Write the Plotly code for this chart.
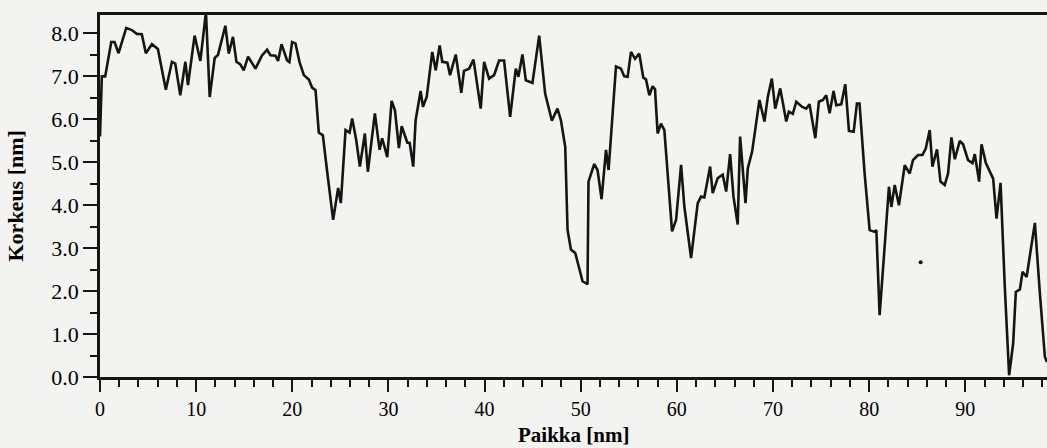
import plotly.graph_objects as go

# Profile data (position in nm, height in nm)
position_nm = [0.0, 0.19, 0.54, 1.17, 1.51, 1.93, 2.73, 3.31, 3.83, 4.35,
    4.77, 5.40, 6.02, 6.38, 6.85, 7.48, 7.83, 8.35, 8.88, 9.15,
    9.84, 10.44, 11.02, 11.41, 11.93, 12.27, 13.04, 13.39, 13.83, 14.19,
    14.60, 14.95, 15.40, 16.17, 16.85, 17.38, 17.73, 18.25, 18.52, 18.88,
    19.46, 19.7, 19.98, 20.33, 20.75, 21.2, 21.72, 22.06, 22.42, 22.76,
    23.18, 23.63, 24.25, 24.77, 25.05, 25.54, 25.96, 26.23, 26.65, 27.03,
    27.55, 27.86, 28.59, 29.08, 29.35, 29.88, 30.33, 30.68, 31.09, 31.38,
    31.72, 31.96, 32.21, 32.58, 32.83, 33.35, 33.59, 33.98, 34.56, 34.92,
    35.33, 35.6, 36.13, 36.41, 37.0, 37.58, 37.86, 38.39, 38.85, 39.6,
    39.95, 40.47, 40.99, 41.51, 42.03, 42.66, 43.25, 43.52, 43.94, 44.29,
    44.98, 45.68, 46.3, 47.0, 47.58, 47.94, 48.39, 48.63, 48.98, 49.43,
    50.19, 50.71, 50.81, 51.41, 51.75, 52.17, 52.63, 52.9, 53.67, 54.19,
    54.53, 54.88, 55.23, 55.65, 56.09, 56.51, 56.79, 57.14, 57.48, 57.73,
    58.0, 58.35, 58.7, 59.5, 59.92, 60.44, 60.78, 61.48, 62.17, 62.52,
    62.86, 63.46, 63.73, 64.25, 64.77, 65.13, 65.54, 65.89, 66.33, 66.58,
    67.14, 67.38, 67.83, 68.25, 68.59, 69.11, 69.46, 69.88, 70.23, 70.75,
    71.38, 71.65, 72.06, 72.42, 73.04, 73.46, 73.8, 74.4, 74.77, 75.19,
    75.54, 75.89, 76.3, 76.58, 77.1, 77.52, 77.9, 78.39, 78.73, 79.0,
    79.53, 80.05, 80.57, 80.75, 81.09, 81.61, 82.06, 82.31, 82.66, 83.1,
    83.7, 84.22, 84.56, 85.08, 85.54, 85.89, 86.3, 86.58, 87.06, 87.42,
    87.86, 88.21, 88.56, 88.91, 89.43, 89.77, 90.29, 90.75, 90.99, 91.44,
    91.69, 92.14, 92.55, 92.9, 93.25, 93.67, 94.11, 94.56, 94.98, 95.26,
    95.68, 95.96, 96.38, 97.24, 97.76, 98.28, 98.49]

height_nm = [5.6, 7.0, 7.0, 7.8, 7.8, 7.54, 8.13, 8.08, 7.99, 7.98,
    7.54, 7.75, 7.64, 7.22, 6.69, 7.34, 7.3, 6.56, 7.34, 6.8,
    7.95, 7.36, 8.5, 6.52, 7.43, 7.5, 8.18, 7.53, 7.92, 7.34,
    7.28, 7.14, 7.46, 7.18, 7.49, 7.62, 7.49, 7.48, 7.36, 7.75,
    7.37, 7.33, 7.8, 7.77, 7.34, 7.03, 6.93, 6.74, 6.68, 5.69,
    5.63, 4.78, 3.66, 4.4, 4.05, 5.75, 5.69, 6.02, 5.52, 4.9,
    5.67, 4.78, 6.14, 5.29, 5.56, 5.12, 6.43, 6.21, 5.33, 5.84,
    5.63, 5.46, 5.45, 4.9, 5.98, 6.66, 6.29, 6.52, 7.57, 7.14,
    7.72, 7.34, 7.32, 7.03, 7.51, 6.62, 7.13, 7.18, 7.39, 6.25,
    7.34, 6.95, 7.03, 7.37, 7.37, 6.06, 7.18, 6.99, 7.51, 6.91,
    6.85, 7.95, 6.6, 5.97, 6.25, 5.98, 5.36, 3.43, 2.97, 2.89,
    2.23, 2.16, 4.55, 4.96, 4.82, 4.14, 5.29, 4.82, 7.23, 7.18,
    7.0, 6.99, 7.57, 7.41, 7.53, 6.97, 6.93, 6.56, 6.77, 6.7,
    5.67, 5.9, 5.75, 3.39, 3.66, 4.94, 3.97, 2.77, 4.05, 4.2,
    4.18, 4.9, 4.28, 4.63, 4.71, 4.32, 5.19, 4.2, 3.55, 5.6,
    4.05, 4.86, 5.25, 5.9, 6.45, 5.95, 6.52, 6.95, 6.25, 6.72,
    5.95, 6.18, 6.13, 6.41, 6.29, 6.25, 6.35, 5.56, 6.41, 6.45,
    6.56, 6.14, 6.66, 6.33, 6.35, 6.82, 5.73, 5.71, 6.37, 6.37,
    4.74, 3.42, 3.38, 3.42, 1.44, 3.03, 4.43, 3.96, 4.47, 4.0,
    4.93, 4.74, 5.05, 5.17, 5.17, 5.32, 5.75, 4.9, 5.3, 4.55,
    4.47, 4.74, 5.58, 5.07, 5.5, 5.42, 5.05, 4.98, 5.19, 4.55,
    5.42, 4.98, 4.8, 4.62, 3.69, 4.52, 2.1, 0.04, 0.78, 1.98,
    2.04, 2.45, 2.33, 3.59, 1.94, 0.47, 0.35]

# isolated speck in the reference
dot_x = [85.36]
dot_y = [2.67]

assert len(position_nm) == len(height_nm), (len(position_nm), len(height_nm))

x_ticks = [0, 10, 20, 30, 40, 50, 60, 70, 80, 90]
y_ticks = [0, 1, 2, 3, 4, 5, 6, 7, 8]
y_ticklabels = ["0.0", "1.0", "2.0", "3.0", "4.0", "5.0", "6.0", "7.0", "8.0"]
x_title = "Paikka [nm]"
y_title = "Korkeus [nm]"

FONT = "Liberation Serif, Times New Roman, serif"
INK = "#151515"
BG = "#f3f3f1"

fig = go.Figure()
fig.add_trace(go.Scatter(x=position_nm, y=height_nm, mode="lines",
                         line=dict(color=INK, width=2.6), hoverinfo="skip",
                         showlegend=False))
fig.add_trace(go.Scatter(x=dot_x, y=dot_y, mode="markers",
                         marker=dict(color=INK, size=4), hoverinfo="skip",
                         showlegend=False))

fig.update_layout(
    width=1047, height=448,
    margin=dict(l=100, r=0, t=15, b=71),
    paper_bgcolor=BG, plot_bgcolor=BG,
    font=dict(family=FONT, size=20, color="black"),
    showlegend=False,
)
fig.update_xaxes(
    range=[0, 98.5], showgrid=False, zeroline=False,
    showline=True, linecolor=INK, linewidth=2.5, mirror=True,
    ticks="outside", ticklen=12, tickwidth=2, tickcolor=INK,
    tickvals=x_ticks, ticktext=[str(v) for v in x_ticks],
    tickfont=dict(family=FONT, size=20),
    ticklabelstandoff=0,
    minor=dict(dtick=2, ticks="outside", ticklen=7, tickwidth=2, tickcolor=INK),
)
fig.update_yaxes(
    range=[0, 8.43], showgrid=False, zeroline=False,
    showline=True, linecolor=INK, linewidth=2.5, mirror=False,
    ticks="outside", ticklen=14, tickwidth=2, tickcolor=INK,
    tickvals=y_ticks, ticktext=y_ticklabels,
    tickfont=dict(family=FONT, size=22),
    ticklabelstandoff=0,
    minor=dict(dtick=0.5, ticks="outside", ticklen=7, tickwidth=2, tickcolor=INK),
)

fig.add_annotation(text="<b>%s</b>" % x_title, xref="paper", yref="paper",
                   x=0.5, y=0, xanchor="center", yanchor="bottom", yshift=-72,
                   showarrow=False, font=dict(family=FONT, size=21, color="black"))
fig.add_annotation(text="<b>%s</b>" % y_title, xref="paper", yref="paper",
                   x=0, y=0.5, xanchor="left", yanchor="middle", xshift=-100,
                   textangle=-90, showarrow=False,
                   font=dict(family=FONT, size=22, color="black"))

fig.write_html("out.html")
